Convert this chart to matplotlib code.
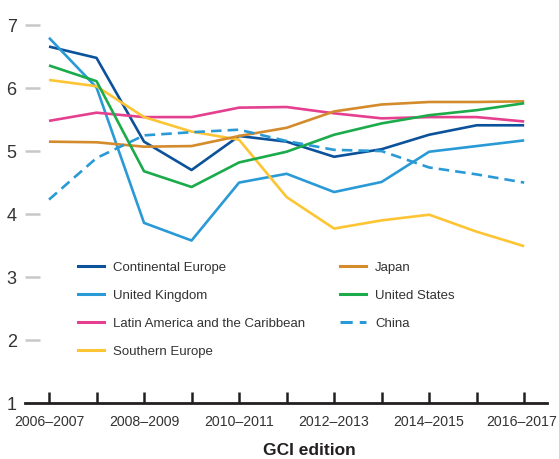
import matplotlib.pyplot as plt
import matplotlib.transforms as mtransforms
from matplotlib.lines import Line2D

plt.rcParams['font.family'] = ['Liberation Sans', 'DejaVu Sans']

editions = ['2006–2007', '2007–2008', '2008–2009', '2009–2010', '2010–2011', '2011–2012',
            '2012–2013', '2013–2014', '2014–2015', '2015–2016', '2016–2017']

continental_europe = [6.66, 6.48, 5.15, 4.70, 5.24, 5.15, 4.91, 5.03, 5.26, 5.41, 5.41]
united_kingdom = [6.80, 6.01, 3.86, 3.58, 4.50, 4.64, 4.35, 4.51, 4.99, 5.08, 5.17]
latin_america = [5.48, 5.61, 5.54, 5.54, 5.69, 5.70, 5.60, 5.52, 5.54, 5.54, 5.47]
southern_europe = [6.13, 6.03, 5.54, 5.31, 5.18, 4.27, 3.77, 3.90, 3.99, 3.72, 3.49]
japan = [5.15, 5.14, 5.07, 5.08, 5.24, 5.37, 5.63, 5.74, 5.78, 5.78, 5.79]
united_states = [6.36, 6.11, 4.68, 4.43, 4.82, 4.99, 5.26, 5.44, 5.57, 5.65, 5.76]
china = [4.23, 4.89, 5.25, 5.30, 5.34, 5.16, 5.02, 5.00, 4.74, 4.63, 4.50]

series = [
    ('Continental Europe', continental_europe, '#0b529b', '-'),
    ('United Kingdom', united_kingdom, '#2a9ad6', '-'),
    ('Latin America and the Caribbean', latin_america, '#e4408f', '-'),
    ('Southern Europe', southern_europe, '#fdc534', '-'),
    ('Japan', japan, '#d38b2c', '-'),
    ('United States', united_states, '#1bab4b', '-'),
    ('China', china, '#2a9ad6', (0, (4, 2.3))),
]

fig = plt.figure(figsize=(5.59, 4.59), dpi=100)
ax = fig.add_axes([25 / 559, 56 / 459, 522 / 559, 398 / 459])

x = list(range(len(editions)))
for name, vals, color, ls in series:
    ax.plot(x, vals, color=color, lw=1.9, linestyle=ls, solid_capstyle='butt')

ax.set_xlim(-0.505, 10.48)
ax.set_ylim(1, 7.32)

ax.set_xticks(x)
ax.set_xticklabels([e if i % 2 == 0 else '' for i, e in enumerate(editions)])
ax.set_yticks([1, 2, 3, 4, 5, 6, 7])

for s in ['top', 'right', 'left']:
    ax.spines[s].set_visible(False)
ax.spines['bottom'].set_color('#231f20')
ax.spines['bottom'].set_linewidth(2)

ax.tick_params(axis='x', direction='in', length=8, width=1.8, color='#231f20',
               labelsize=10.2, labelcolor='#333333', pad=9)
ax.tick_params(axis='y', direction='in', length=11, width=1.8, color='#c8c8c8',
               labelsize=13, labelcolor='#333333', pad=6)
# tick at 1 would sit on the axis line
ax.yaxis.get_major_ticks()[0].tick1line.set_visible(False)

# nudge last label a little so it stays inside the figure
last = ax.get_xticklabels()[-1]
last.set_transform(last.get_transform() + mtransforms.ScaledTranslation(-3 / 100, 0, fig.dpi_scale_trans))

ax.set_xlabel('GCI edition', fontsize=12.5, fontweight='bold', color='#231f20')
ax.xaxis.set_label_coords(0.545, -0.1)

handles = [Line2D([0], [0], color=c, lw=2.2, linestyle=ls) for _, _, c, ls in series]
labels = [n for n, _, _, _ in series]
leg_kw = dict(loc='upper left', frameon=False, fontsize=9.5, labelcolor='#333333',
              handlelength=2.0, handletextpad=0.68, labelspacing=1.19, borderaxespad=0)
leg1 = ax.legend(handles[:4], labels[:4], bbox_to_anchor=(0.0914, 0.368), **leg_kw)
ax.add_artist(leg1)
ax.legend(handles[4:], labels[4:], bbox_to_anchor=(0.593, 0.368), **leg_kw)

fig.savefig('out.png', dpi=100)
